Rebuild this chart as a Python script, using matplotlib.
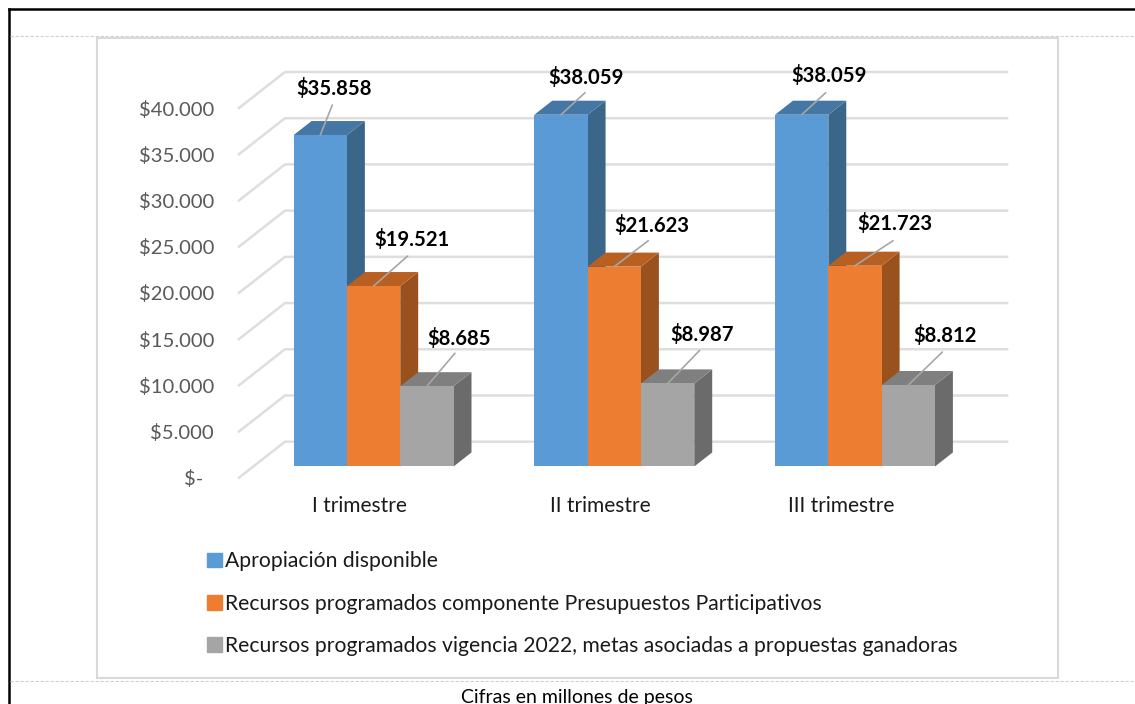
import matplotlib
matplotlib.use("Agg")
import matplotlib.pyplot as plt
from matplotlib.lines import Line2D
from matplotlib.patches import Rectangle, Patch

plt.rcParams['font.family'] = ['Lato', 'DejaVu Sans']

# datos
trimestres = ["I trimestre", "II trimestre", "III trimestre"]
apropiacion = [35858, 38059, 38059]
componente = [19521, 21623, 21723]
vigencia = [8685, 8987, 8812]
etiquetas = ["$35.858", "$38.059", "$38.059",
             "$19.521", "$21.623", "$21.723",
             "$8.685", "$8.987", "$8.812"]
nombres = ["Apropiación disponible",
           "Recursos programados componente Presupuestos Participativos",
           "Recursos programados vigencia 2022, metas asociadas a propuestas ganadoras"]
ticks = [0, 5000, 10000, 15000, 20000, 25000, 30000, 35000, 40000]
tick_labels = ["$-\u00a0\u00a0", "$5.000", "$10.000", "$15.000", "$20.000",
               "$25.000", "$30.000", "$35.000", "$40.000"]

W, H = 1135, 704
frente = ["#5B9BD5", "#ED7D31", "#A5A5A5"]
arriba = ["#4577A5", "#B85F22", "#7F7F7F"]
lado = ["#3A6689", "#99521E", "#6B6B6B"]
GRIS = "#DEDEDE"

# profundidad de la pared y de las barras, en unidades de datos
DX, DY = 0.191, 3896
BASE_X = 0.31 * DX
BASE_Y = 1212
FONDO = 0.39
ANCHO = 0.2215

# desplazamiento de cada etiqueta respecto a su barra, en pixeles (linea y texto)
lineas = [(12, 30), (24, 22), (24, 22),
          (34, 30), (34, 26), (38, 25),
          (28, 33), (32, 33), (34, 33)]
textos = [(14, 47), (25, 37), (27, 39),
          (38, 47), (38, 41), (40, 42),
          (32, 48), (35, 49), (37, 50)]


def px(x0, y0, x1, y1, **kw):
    return Line2D([x0 / W, x1 / W], [1 - y0 / H, 1 - y1 / H],
                  transform=fig.transFigure, **kw)


fig = plt.figure(figsize=(W / 100, H / 100), dpi=100)

# marcos de la pagina
fig.add_artist(px(9, 9, W, 9, color="black", lw=1.8, zorder=-1))
fig.add_artist(px(9, 9, 9, H, color="black", lw=1.8, zorder=-1))
fig.add_artist(px(10, 36, W, 36, color="#D0D0D0", lw=0.8, ls=(0, (3, 1.5)), zorder=-1))
fig.add_artist(px(10, 681, W, 681, color="#D0D0D0", lw=0.8, ls=(0, (3, 1.5)), zorder=-1))
fig.add_artist(Rectangle((97 / W, 1 - 678 / H), 961 / W, 640 / H, transform=fig.transFigure,
                         fc="white", ec="#D9D9D9", lw=1.5, zorder=-1))
fig.text(577 / W, 1 - 697 / H, "Cifras en millones de pesos", ha="center", va="center",
         fontsize=14, color="black")

ax = fig.add_axes([239 / W, 1 - 477.7 / H, 722.1 / W, 369.7 / H])
ax.patch.set_visible(False)
ax.set_xlim(-0.5, 2.5)
ax.set_ylim(0, 40000)
for s in ax.spines.values():
    s.set_visible(False)

ax.set_yticks(ticks, tick_labels)
ax.set_xticks(range(len(trimestres)), trimestres)
ax.tick_params(axis="y", length=0, pad=18, labelsize=14.6, labelcolor="#595959")
ax.tick_params(axis="x", length=0, pad=13, labelsize=15, labelcolor="#1A1A1A")

# lineas de la pared
for v in ticks:
    ax.plot([-0.5, -0.5 + DX, 2.5 + DX], [v, v + DY, v + DY], color=GRIS, lw=1.8,
            clip_on=False, zorder=1, solid_joinstyle="miter")

series = [apropiacion, componente, vigencia]
for s, vals in enumerate(series):
    for c, v in enumerate(vals):
        x0 = c + BASE_X + (s - 1.5) * ANCHO
        x1 = x0 + ANCHO
        dx = FONDO * DX
        dy = FONDO * DY
        # la barra arranca por delante de la pared
        y0 = BASE_Y
        top = y0 + v
        z = 3 + s
        ax.fill([x1, x1 + dx, x1 + dx, x1], [y0, y0 + dy, top + dy, top], color=lado[s], lw=0, zorder=z, clip_on=False)
        ax.fill([x0, x1, x1 + dx, x0 + dx], [top, top, top + dy, top + dy], color=arriba[s], lw=0, zorder=z, clip_on=False)
        ax.fill([x0, x1, x1, x0], [y0, y0, top, top], color=frente[s], lw=0, zorder=z, clip_on=False)

        i = s * 3 + c
        xa = (x0 + x1) / 2
        ax.annotate("", xy=(xa, top), xytext=lineas[i], textcoords="offset pixels",
                    arrowprops=dict(arrowstyle="-", color="#A6A6A6", lw=1.2, shrinkA=0, shrinkB=0),
                    zorder=10, annotation_clip=False)
        ax.annotate(etiquetas[i], xy=(xa, top), xytext=textos[i], textcoords="offset pixels",
                    ha="center", va="center", fontsize=14.6, fontweight="bold", color="black",
                    zorder=11, annotation_clip=False)

handles = [Patch(color=frente[i], label=nombres[i]) for i in range(3)]
fig.legend(handles=handles, loc="upper left", bbox_to_anchor=(201 / W, 1 - 545 / H),
           frameon=False, fontsize=15.2, handlelength=0.7, handleheight=0.7, handletextpad=0.15,
           labelspacing=1.05, labelcolor="#1A1A1A", borderpad=0.3, borderaxespad=0)

fig.savefig("out.png", dpi=100)
